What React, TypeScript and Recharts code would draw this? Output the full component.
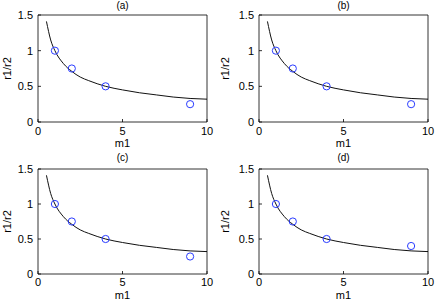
import { ComposedChart, Line, Scatter, XAxis, YAxis } from "recharts"

// fitted curve r1/r2 vs m1
const curveM1 = [0.5, 0.75, 1, 1.5, 2, 2.5, 3, 4, 5, 6, 7, 8, 9, 10]
const curveRatio = [1.41, 1.15, 1.0, 0.82, 0.71, 0.63, 0.58, 0.5, 0.45, 0.41, 0.38, 0.35, 0.33, 0.32]

// measured points
const pointM1 = [1, 2, 4, 9]
const ratioA = [1, 0.75, 0.5, 0.25]
const ratioB = [1, 0.75, 0.5, 0.25]
const ratioC = [1, 0.75, 0.5, 0.25]
const ratioD = [1, 0.75, 0.5, 0.4]

const panelTitles = ["(a)", "(b)", "(c)", "(d)"]
const xTicks = [0, 5, 10]
const yTicks = [0, 0.5, 1, 1.5]

const FONT = "'Liberation Sans', Arial, sans-serif"

const curveData = curveM1.map((m1, i) => ({ m1, ratio: curveRatio[i] }))

const Ring = (props: any) => {
  const { cx, cy } = props
  return <circle cx={cx} cy={cy} r={3.6} fill="none" stroke="#2a3cff" strokeWidth={1} />
}

interface PanelProps {
  title: string
  ratios: number[]
  left: number
  top: number
  yWidth: number
  marginTop: number
  marginRight: number
  xHeight: number
  titleOffset: number
  xTickMargin: number
  xLabelOffset: number
}

function Panel(p: PanelProps) {
  const points = pointM1.map((m1, i) => ({ m1, ratio: p.ratios[i] }))
  const tickStyle = { fontSize: 11, fill: "#000", fontFamily: FONT }
  const axisLine = { stroke: "#000", strokeWidth: 0.8 }
  const tickLine = { stroke: "#000", strokeWidth: 0.8 }

  return (
    <div style={{ position: "absolute", left: p.left, top: p.top }}>
      <ComposedChart
        width={218}
        height={150}
        margin={{ top: p.marginTop - 1, right: p.marginRight - 1, bottom: 0, left: 0 }}
      >
        <XAxis
          xAxisId="b"
          type="number"
          dataKey="m1"
          domain={[0, 10]}
          ticks={xTicks}
          height={p.xHeight}
          tickSize={-3}
          tickMargin={p.xTickMargin}
          tick={tickStyle}
          axisLine={axisLine}
          tickLine={tickLine}
          allowDataOverflow
          label={{ value: "m1", position: "insideBottom", offset: p.xLabelOffset, fontSize: 11, fill: "#000", fontFamily: FONT }}
        />
        <XAxis
          xAxisId="t"
          orientation="top"
          type="number"
          dataKey="m1"
          domain={[0, 10]}
          ticks={xTicks}
          height={1}
          tickSize={-3}
          tick={false}
          axisLine={axisLine}
          tickLine={tickLine}
          allowDataOverflow
          label={{ value: p.title, position: "top", offset: p.titleOffset - 1, fontSize: 10, fill: "#000", fontFamily: FONT }}
        />
        <YAxis
          yAxisId="l"
          type="number"
          domain={[0, 1.5]}
          ticks={yTicks}
          width={p.yWidth}
          tickSize={-3}
          tickMargin={8}
          tick={tickStyle}
          axisLine={axisLine}
          tickLine={tickLine}
          allowDataOverflow
          label={{
            value: "r1/r2",
            angle: -90,
            position: "insideLeft",
            offset: 7,
            fontSize: 11,
            fill: "#000",
            fontFamily: FONT,
            style: { textAnchor: "middle" },
          }}
        />
        <YAxis
          yAxisId="r"
          orientation="right"
          type="number"
          domain={[0, 1.5]}
          ticks={yTicks}
          width={1}
          tickSize={-3}
          tick={false}
          axisLine={axisLine}
          tickLine={tickLine}
          allowDataOverflow
        />
        {/* curve sits on the top/right axes (same domains) so the box axes get drawn */}
        <Line
          xAxisId="t"
          yAxisId="r"
          data={curveData}
          dataKey="ratio"
          type="monotone"
          stroke="#111"
          strokeWidth={1}
          dot={false}
          isAnimationActive={false}
        />
        <Scatter
          xAxisId="b"
          yAxisId="l"
          data={points}
          dataKey="ratio"
          shape={<Ring />}
          isAnimationActive={false}
        />
      </ComposedChart>
    </div>
  )
}

export default function App() {
  return (
    <div style={{ position: "absolute", left: 0, top: 0, width: 436, height: 300, background: "#fff" }}>
      <Panel title={panelTitles[0]} ratios={ratioA} left={0} top={0} yWidth={38} marginTop={15} marginRight={11} xHeight={28} titleOffset={6.5} xTickMargin={8} xLabelOffset={3} />
      <Panel title={panelTitles[1]} ratios={ratioB} left={218} top={0} yWidth={41} marginTop={15} marginRight={8} xHeight={28} titleOffset={6.5} xTickMargin={8} xLabelOffset={3} />
      <Panel title={panelTitles[2]} ratios={ratioC} left={0} top={150} yWidth={38} marginTop={19} marginRight={11} xHeight={26} titleOffset={8.5} xTickMargin={7} xLabelOffset={1} />
      <Panel title={panelTitles[3]} ratios={ratioD} left={218} top={150} yWidth={41} marginTop={19} marginRight={8} xHeight={26} titleOffset={8.5} xTickMargin={7} xLabelOffset={1} />
    </div>
  )
}
